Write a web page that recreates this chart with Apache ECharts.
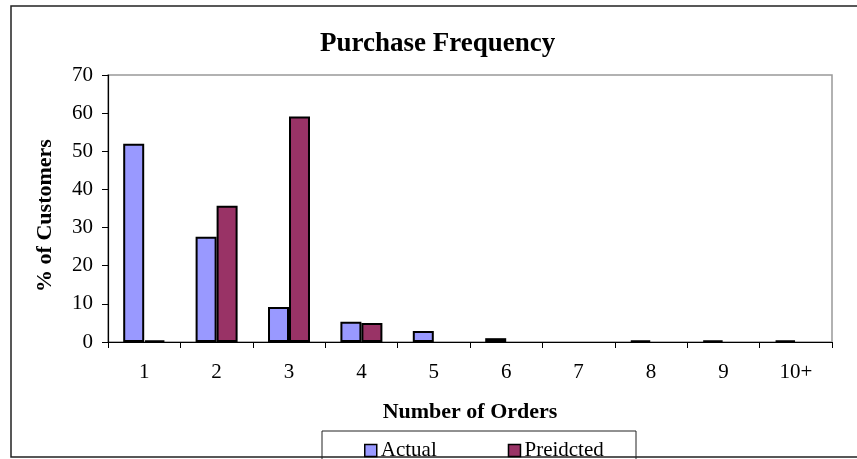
<!DOCTYPE html>
<html>
<head>
<meta charset="utf-8">
<script src="https://cdn.jsdelivr.net/npm/echarts@6/dist/echarts.min.js"></script>
<style>
  html, body { margin: 0; padding: 0; background: #fff; }
  #chart { width: 857px; height: 459px; }
</style>
</head>
<body>
<div id="chart"></div>
<script>
// Purchase frequency: share of customers by number of orders
const categories = ['1', '2', '3', '4', '5', '6', '7', '8', '9', '10+'];
const actual    = [52.0, 27.6, 9.2, 5.3, 2.9, 1.0, 0, 0.4, 0.4, 0.4];
const predicted = [0.4, 35.7, 59.1, 5.0, 0, 0, 0, 0, 0, 0];
const yTicks = { min: 0, max: 70, interval: 10 };

const serif = '"Liberation Serif", "Times New Roman", serif';

// zero-height bars get no outline so they leave no mark on the axis
const toBarData = (values) => values.map(v =>
  v === 0 ? { value: v, itemStyle: { borderWidth: 0 } } : v
);

const chart = echarts.init(document.getElementById('chart'), null, { renderer: 'canvas' });

chart.setOption({
  backgroundColor: '#ffffff',
  animation: false,
  title: {
    text: 'Purchase Frequency',
    left: 315,
    top: 26,
    textStyle: { fontFamily: serif, fontWeight: 'bold', fontSize: 27, color: '#000' }
  },
  grid: {
    left: 108, right: 25, top: 75, bottom: 117,
    show: true, borderColor: '#999', borderWidth: 1.5, backgroundColor: '#fff'
  },
  legend: {
    left: 359, top: 435,
    itemWidth: 12, itemHeight: 12, itemGap: 71,
    icon: 'rect',
    itemStyle: { borderColor: '#000', borderWidth: 1.5 },
    textStyle: { fontFamily: serif, fontSize: 21, color: '#000', padding: [0, 0, 0, -1] },
    data: ['Actual', 'Preidcted']
  },
  xAxis: {
    type: 'category',
    data: categories,
    name: 'Number of Orders',
    nameLocation: 'middle',
    nameGap: 59,
    nameTextStyle: { fontFamily: serif, fontWeight: 'bold', fontSize: 22, color: '#000' },
    axisLine: { lineStyle: { color: '#000', width: 1.2 } },
    axisTick: { show: true, alignWithLabel: false, interval: 0, length: 6, lineStyle: { color: '#000' } },
    axisLabel: { interval: 0, margin: 20, fontFamily: serif, fontSize: 21, color: '#000' },
    splitLine: { show: false }
  },
  yAxis: {
    type: 'value',
    min: yTicks.min, max: yTicks.max, interval: yTicks.interval,
    name: '% of Customers',
    nameLocation: 'middle',
    nameGap: 52,
    nameTextStyle: { fontFamily: serif, fontWeight: 'bold', fontSize: 22, color: '#000', padding: [0, 14, 0, 0] },
    axisLine: { show: true, lineStyle: { color: '#000', width: 1.2 } },
    axisTick: { show: true, length: 6, lineStyle: { color: '#000' } },
    axisLabel: { margin: 15, fontFamily: serif, fontSize: 21, color: '#000' },
    splitLine: { show: false }
  },
  series: [
    {
      name: 'Actual',
      type: 'bar',
      data: toBarData(actual),
      barGap: '0%',
      barCategoryGap: '42%',
      itemStyle: { color: '#9999FF', borderColor: '#000', borderWidth: 2 }
    },
    {
      name: 'Preidcted',
      type: 'bar',
      data: toBarData(predicted),
      barGap: '0%',
      barCategoryGap: '42%',
      itemStyle: { color: '#993366', borderColor: '#000', borderWidth: 2 }
    }
  ],
  graphic: [
    {
      type: 'rect',
      silent: true,
      z: -1,
      shape: { x: 11, y: 6, width: 880, height: 451 },
      style: { fill: null, stroke: '#222', lineWidth: 1.5 }
    },
    {
      type: 'rect',
      silent: true,
      shape: { x: 322, y: 431, width: 314, height: 60 },
      style: { fill: null, stroke: '#222', lineWidth: 1 }
    }
  ]
});
</script>
</body>
</html>
